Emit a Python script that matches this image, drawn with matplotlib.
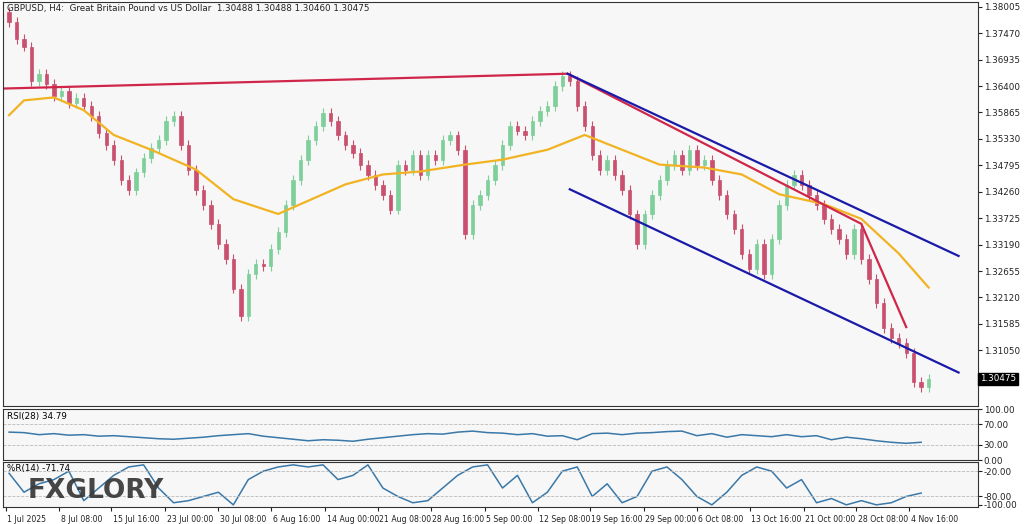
import matplotlib
matplotlib.use("Agg")
import matplotlib.pyplot as plt
import numpy as np

closes = [1.3770,1.3735,1.3720,1.3650,1.3665,1.3645,1.3620,1.3630,1.3605,1.3615,
          1.3600,1.3580,1.3545,1.3520,1.3490,1.3450,1.3430,1.3465,1.3495,1.3515,
          1.3530,1.3570,1.3580,1.3520,1.3470,1.3430,1.3400,1.3360,1.3320,1.3290,
          1.3230,1.3175,1.3260,1.3280,1.3275,1.3310,1.3345,1.3400,1.3450,1.3490,
          1.3530,1.3560,1.3585,1.3570,1.3540,1.3520,1.3505,1.3480,1.3460,1.3440,
          1.3420,1.3390,1.3480,1.3470,1.3500,1.3460,1.3500,1.3490,1.3530,1.3540,
          1.3510,1.3340,1.3400,1.3420,1.3450,1.3480,1.3520,1.3560,1.3550,1.3540,
          1.3570,1.3590,1.3600,1.3640,1.3660,1.3650,1.3600,1.3560,1.3500,1.3470,
          1.3490,1.3460,1.3430,1.3380,1.3320,1.3380,1.3420,1.3450,1.3480,1.3500,
          1.3470,1.3510,1.3480,1.3490,1.3450,1.3420,1.3380,1.3350,1.3300,1.3270,
          1.3320,1.3260,1.3330,1.3400,1.3440,1.3460,1.3440,1.3420,1.3400,1.3370,
          1.3350,1.3330,1.3300,1.3350,1.3290,1.3250,1.3200,1.3150,1.3130,1.3120,
          1.3100,1.3040,1.3030,1.3047]
first_open = 1.3790
wick = 0.0010

ma_idx = [0,2,6,10,14,19,25,30,36,39,45,50,55,61,66,72,77,82,87,93,98,103,109,114,119,123]
ma_val = [1.3581,1.3611,1.3617,1.3591,1.3541,1.3511,1.3471,1.3411,1.3381,1.3401,1.3441,1.3461,1.3467,
          1.3481,1.3491,1.3511,1.3541,1.3511,1.3481,1.3475,1.3461,1.3421,1.3401,1.3371,1.3301,1.3232]

red_idx = [-0.7,74.7,114,120]
red_val = [1.3635,1.3665,1.3361,1.3152]
up_idx = [74.7,127]; up_val = [1.3665,1.3296]
lo_idx = [75,127]; lo_val = [1.3431,1.3060]

osc_idx = list(range(0,124,2))
rsi = [55,54,50,52,49,50,47,48,46,44,42,41,43,45,48,50,52,47,44,41,38,40,39,37,41,44,
       47,50,52,51,55,57,54,53,50,52,47,48,40,52,53,50,53,54,56,57,48,52,45,50,48,46,
       50,46,48,40,45,42,38,35,33,35]
wr = [-25,-70,-50,-40,-20,-90,-60,-30,-10,-5,-60,-95,-90,-80,-70,-100,-40,-20,-10,-5,
      -10,-5,-40,-30,-5,-60,-80,-95,-90,-60,-30,-10,-5,-60,-30,-95,-70,-20,-10,-80,
      -50,-95,-80,-20,-10,-40,-80,-100,-70,-30,-10,-20,-60,-40,-95,-85,-100,-90,-100,-95,-80,-72]

date_labels = ["1 Jul 2025","8 Jul 08:00","15 Jul 16:00","23 Jul 00:00","30 Jul 08:00","6 Aug 16:00",
               "14 Aug 00:00","21 Aug 08:00","28 Aug 16:00","5 Sep 00:00","12 Sep 08:00","19 Sep 16:00",
               "29 Sep 00:00","6 Oct 08:00","13 Oct 16:00","21 Oct 00:00","28 Oct 08:00","4 Nov 16:00"]
date_pos = [-0.4,6.7,13.7,20.9,28.0,35.1,42.3,49.3,56.4,63.6,70.7,77.7,84.9,92.0,99.1,106.3,113.3,120.4]
price_ticks = [1.38005,1.37470,1.36935,1.36400,1.35865,1.35330,1.34795,1.34260,1.33725,1.33190,
               1.32655,1.32120,1.31585,1.31050]

fig = plt.figure(figsize=(10.24,5.24), dpi=100, facecolor='white')
W = 978/1024
ax = fig.add_axes([0.003,0.225,W-0.003,0.771])
ax2 = fig.add_axes([0.003,0.122,W-0.003,0.097], sharex=ax)
ax3 = fig.add_axes([0.003,0.0325,W-0.003,0.086], sharex=ax)
for a in (ax,ax2,ax3):
    a.set_facecolor('#f7f7f7')
    for s in a.spines.values():
        s.set_color('#333333'); s.set_linewidth(0.8)
    a.yaxis.tick_right()
    a.tick_params(labelsize=6.3, length=3, pad=1, colors='#222222')
    a.tick_params(axis='x', labelbottom=False, bottom=False)

opens = [first_open] + closes[:-1]
for i,(o,c) in enumerate(zip(opens,closes)):
    col = '#7fcf9a' if c >= o else '#c9506e'
    ax.vlines(i, min(o,c)-wick, max(o,c)+wick, color=col, lw=0.8)
    ax.bar(i, abs(c-o) if abs(c-o)>0 else 0.0002, bottom=min(o,c), width=0.45, color=col, edgecolor=col, lw=0.5)

ax.plot(ma_idx, ma_val, color='#f2b322', lw=1.6)
ax.plot(red_idx, red_val, color='#d0264a', lw=1.6)
ax.plot(up_idx, up_val, color='#1a1aa8', lw=1.6)
ax.plot(lo_idx, lo_val, color='#1a1aa8', lw=1.6)

ax.set_xlim(-0.8,129.6)
ax.set_ylim(1.2992,1.3810)
ax.set_yticks(price_ticks)
ax.set_yticklabels([f"{v:.5f}" for v in price_ticks])
ax.text(1.002, (1.30475-1.2992)/(1.3810-1.2992), "1.30475", transform=ax.transAxes, fontsize=6.3,
        color='white', va='center', ha='left', bbox=dict(facecolor='black', edgecolor='black', pad=1.2))
ax.text(0.004,0.995,"GBPUSD, H4:  Great Britain Pound vs US Dollar  1.30488 1.30488 1.30460 1.30475",
        transform=ax.transAxes, fontsize=6.3, va='top', color='#222222')

ax2.plot(osc_idx, rsi, color='#3a78a8', lw=1.1)
ax2.set_ylim(0,100)
for v in (70,30):
    ax2.axhline(v, color='#bbbbbb', ls='--', lw=0.6)
ax2.set_yticks([100,70,30,0]); ax2.set_yticklabels(["100.00","70.00","30.00","0.00"])
ax2.text(0.004,0.95,"RSI(28) 34.79", transform=ax2.transAxes, fontsize=6.3, va='top')

ax3.plot(osc_idx, wr, color='#3a78a8', lw=1.1)
ax3.set_ylim(-105,2)
for v in (-20,-80):
    ax3.axhline(v, color='#bbbbbb', ls='--', lw=0.6)
ax3.set_yticks([-20,-80,-100]); ax3.set_yticklabels(["-20.00","-80.00","-100.00"])
ax3.text(0.004,0.95,"%R(14) -71.74", transform=ax3.transAxes, fontsize=6.3, va='top')
ax3.text(0.025,0.35,"FXGLORY", transform=ax3.transAxes, fontsize=19, fontweight='bold',
         color='#333333', alpha=0.9, va='center')

for p,l in zip(date_pos,date_labels):
    ax3.annotate(l, xy=(p,0), xycoords=('data','axes fraction'), xytext=(1,-9), textcoords='offset points',
                 fontsize=5.6, ha='left', va='center', color='#222222', annotation_clip=False)
ax3.set_xticks(date_pos)
ax3.tick_params(axis='x', bottom=True, length=3, direction='out')

fig.savefig("out.png", dpi=100, facecolor='white')
